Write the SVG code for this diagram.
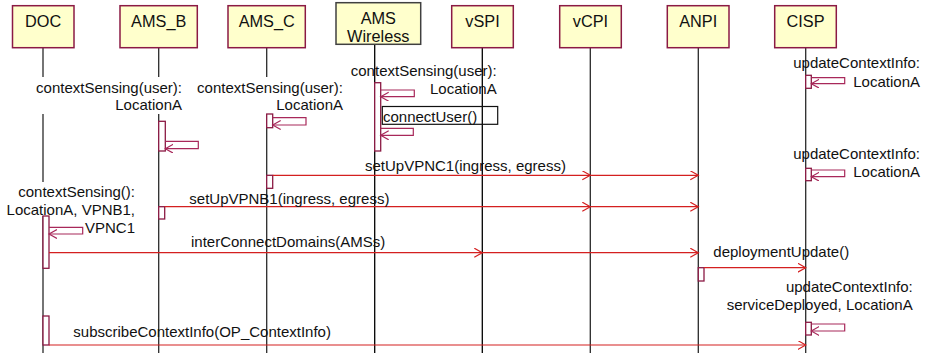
<svg xmlns="http://www.w3.org/2000/svg" width="928" height="353" viewBox="0 0 928 353">
<defs>
<marker id="ah" markerUnits="userSpaceOnUse" markerWidth="10" markerHeight="11" refX="8" refY="4.5" orient="auto">
<path d="M0,0 L8,4.5 L0,9" fill="none" stroke="#d42020" stroke-width="1.2"/>
</marker>
<marker id="ahs" markerUnits="userSpaceOnUse" markerWidth="10" markerHeight="11" refX="8" refY="4.5" orient="auto">
<path d="M0,0 L8,4.5 L0,9" fill="none" stroke="#a8285a" stroke-width="1.2"/>
</marker>
<style>
.hdr{fill:#ffffcc;stroke:#8b1a44;stroke-width:1.5}
.hdrg{fill:#ffffcc;stroke:#404040;stroke-width:1.5}
.ht{font-family:"Liberation Sans",Arial,sans-serif;font-size:16.3px;fill:#111;text-anchor:middle}
.life{stroke:#2a2a2a;stroke-width:1.3}
.lifeb{stroke:#000;stroke-width:1.3}
.act{fill:#fff;stroke:#8b1a44;stroke-width:1.3}
.msg{stroke:#d42020;stroke-width:1.2;fill:none;marker-end:url(#ah)}
.self{stroke:#a8285a;stroke-width:1.2;fill:none;marker-end:url(#ahs)}
.t{font-family:"Liberation Sans",Arial,sans-serif;font-size:15px;fill:#111}
.e{text-anchor:end}
.bg{fill:#fff}
</style>
</defs>
<rect width="928" height="353" fill="#fff"/>
<g id="lifelines">
<line class="life" x1="43" y1="48" x2="43" y2="353"/>
<line class="life" x1="158.7" y1="48" x2="158.7" y2="353"/>
<line class="life" x1="266.7" y1="48" x2="266.7" y2="353"/>
<line class="lifeb" x1="374.7" y1="44" x2="374.7" y2="353"/>
<line class="lifeb" x1="482.3" y1="48" x2="482.3" y2="353"/>
<line class="life" x1="590.3" y1="48" x2="590.3" y2="353"/>
<line class="life" x1="698.3" y1="48" x2="698.3" y2="353"/>
<line class="life" x1="805.7" y1="48" x2="805.7" y2="353"/>
</g>
<g id="node-DOC"><rect class="hdr" x="12.5" y="5.7" width="61.5" height="42"/><text class="ht" x="43.2" y="27.3">DOC</text></g>
<g id="node-AMS_B"><rect class="hdr" x="120" y="5.7" width="77.3" height="42"/><text class="ht" x="158.7" y="27.3">AMS_B</text></g>
<g id="node-AMS_C"><rect class="hdr" x="228" y="5.7" width="77.3" height="42"/><text class="ht" x="266.7" y="27.3">AMS_C</text></g>
<g id="node-AMS_Wireless"><rect class="hdrg" x="336" y="2.7" width="84.7" height="41.6"/><text class="ht" x="378.3" y="24">AMS</text><text class="ht" x="378.3" y="42">Wireless</text></g>
<g id="node-vSPI"><rect class="hdr" x="451.7" y="5.7" width="61.6" height="42"/><text class="ht" x="482.5" y="27.3">vSPI</text></g>
<g id="node-vCPI"><rect class="hdr" x="559.7" y="5.7" width="61.6" height="42"/><text class="ht" x="590.5" y="27.3">vCPI</text></g>
<g id="node-ANPI"><rect class="hdr" x="667.3" y="5.7" width="61.7" height="42"/><text class="ht" x="698.2" y="27.3">ANPI</text></g>
<g id="node-CISP"><rect class="hdr" x="774.7" y="5.7" width="61.6" height="42"/><text class="ht" x="805.5" y="27.3">CISP</text></g>
<g id="label-backgrounds">
<rect class="bg" x="34" y="77" width="149" height="37"/>
<rect class="bg" x="196" y="77" width="148" height="37"/>
<rect class="bg" x="5" y="182" width="131" height="34"/>
</g>
<g id="activations">
<rect class="act" x="158.7" y="121.3" width="6.6" height="29.7"/>
<rect class="act" x="266.7" y="114" width="6" height="13.7"/>
<rect class="act" x="374.7" y="82.7" width="6" height="68.3"/>
<rect class="act" x="805.7" y="75.3" width="5.6" height="13"/>
<rect class="act" x="805.7" y="168.3" width="5.6" height="12.4"/>
<rect class="act" x="805.7" y="322.3" width="5.6" height="12.7"/>
<rect class="act" x="266.7" y="175.3" width="6" height="13"/>
<rect class="act" x="158.7" y="206.7" width="6" height="12.3"/>
<rect class="act" x="43" y="216" width="6" height="52.3"/>
<rect class="act" x="698.3" y="267.7" width="5.7" height="13.3"/>
<rect class="act" x="43" y="316" width="6" height="29"/>
</g>
<g id="connectors">
<path class="self" d="M165.3,141.3 H198.3 V148.7 H165.3"/>
<path class="self" d="M272.7,117.7 H306 V125 H272.7"/>
<path class="self" d="M380.7,90 H414.3 V96.7 H380.7"/>
<path class="self" d="M380.7,128.3 H413.3 V135.3 H380.7"/>
<path class="self" d="M811.3,77.7 H844.7 V83.7 H811.3"/>
<path class="self" d="M811.3,170 H844.7 V176.7 H811.3"/>
<path class="self" d="M811.3,324 H844.7 V331 H811.3"/>
<path class="self" d="M49,227.3 H82.7 V234 H49"/>
<line class="msg" x1="272.7" y1="175.3" x2="590.3" y2="175.3"/>
<line class="msg" x1="590.3" y1="175.3" x2="698.3" y2="175.3"/>
<line class="msg" x1="164.7" y1="206.7" x2="590.3" y2="206.7"/>
<line class="msg" x1="590.3" y1="206.7" x2="698.3" y2="206.7"/>
<line class="msg" x1="49" y1="252.7" x2="482.3" y2="252.7"/>
<line class="msg" x1="482.3" y1="252.7" x2="698.3" y2="252.7"/>
<line class="msg" x1="704" y1="267.7" x2="805.7" y2="267.7"/>
<line class="msg" x1="49" y1="345" x2="805.7" y2="345"/>
<rect x="382.3" y="106.5" width="115.4" height="17.8" fill="none" stroke="#111" stroke-width="1.2"/>
</g>
<g id="labels">
<text class="t e" x="182" y="92.7">contextSensing(user):</text>
<text class="t e" x="182" y="110">LocationA</text>
<text class="t e" x="343" y="92.7">contextSensing(user):</text>
<text class="t e" x="343" y="110">LocationA</text>
<text class="t e" x="496.7" y="76">contextSensing(user):</text>
<text class="t e" x="496.7" y="94.3">LocationA</text>
<text class="t" x="383" y="121.5">connectUser()</text>
<text class="t e" x="920" y="68.3">updateContextInfo:</text>
<text class="t e" x="920" y="86.7">LocationA</text>
<text class="t e" x="920" y="158.5">updateContextInfo:</text>
<text class="t e" x="920" y="177">LocationA</text>
<text class="t" x="365" y="170.5">setUpVPNC1(ingress, egress)</text>
<text class="t e" x="135" y="196.7">contextSensing():</text>
<text class="t e" x="135" y="215">LocationA, VPNB1,</text>
<text class="t e" x="135" y="232.7">VPNC1</text>
<text class="t" x="189.3" y="203.5">setUpVPNB1(ingress, egress)</text>
<text class="t" x="191" y="246.5">interConnectDomains(AMSs)</text>
<text class="t" x="713.3" y="256.7">deploymentUpdate()</text>
<text class="t e" x="912.7" y="291.7">updateContextInfo:</text>
<text class="t e" x="912.7" y="310">serviceDeployed, LocationA</text>
<text class="t" x="73.3" y="336.7">subscribeContextInfo(OP_ContextInfo)</text>
</g>
</svg>
